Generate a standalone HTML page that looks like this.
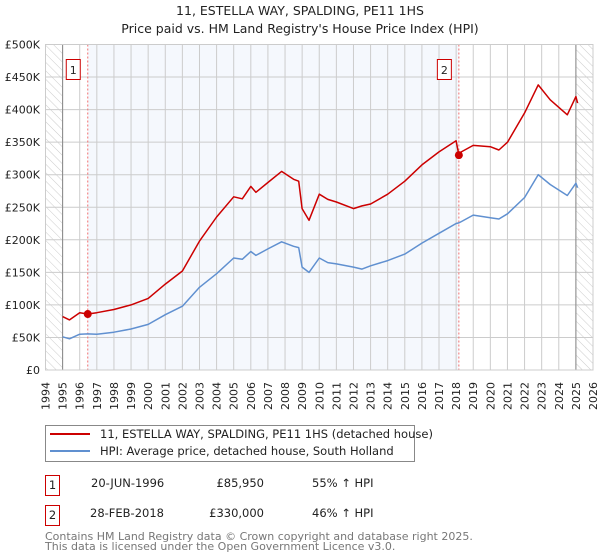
<!DOCTYPE html>
<html><head><meta charset="utf-8"><style>
body{margin:0;background:#fff;font-family:"DejaVu Sans","Liberation Sans",sans-serif;}
svg{display:block}
</style></head><body>
<svg id="chart" width="600" height="560" viewBox="0 0 600 560" xmlns="http://www.w3.org/2000/svg" font-family="DejaVu Sans, Liberation Sans, sans-serif">
<defs>
<pattern id="hatch" width="6" height="6" patternUnits="userSpaceOnUse" patternTransform="rotate(-45)">
<line x1="0" y1="0" x2="0" y2="6" stroke="#ccc" stroke-width="1"/>
</pattern>
</defs>
<text x="300" y="15" text-anchor="middle" font-size="12.5" fill="#222">11, ESTELLA WAY, SPALDING, PE11 1HS</text>
<text x="300" y="33" text-anchor="middle" font-size="12.5" fill="#222">Price paid vs. HM Land Registry's House Price Index (HPI)</text>
<g id="plot"></g>
<g id="legend">
<rect x="45.5" y="425.5" width="369" height="36" fill="#fff" stroke="#888"/>
<line x1="50" y1="434" x2="90" y2="434" stroke="#cc0000" stroke-width="2"/>
<text x="100" y="438" font-size="11.5" fill="#222">11, ESTELLA WAY, SPALDING, PE11 1HS (detached house)</text>
<line x1="50" y1="451" x2="90" y2="451" stroke="#6090d0" stroke-width="2"/>
<text x="100" y="455" font-size="11.5" fill="#222">HPI: Average price, detached house, South Holland</text>
</g>
<g font-size="11.5" fill="#222">
<rect x="45.5" y="475.5" width="14" height="20" fill="#fff" stroke="#cc0000"/>
<text x="52.5" y="489" text-anchor="middle">1</text>
<text x="91" y="487">20-JUN-1996</text>
<text x="264" y="487" text-anchor="end">£85,950</text>
<text x="312" y="487">55% ↑ HPI</text>
</g>
<g font-size="11.5" fill="#222">
<rect x="45.5" y="505.5" width="14" height="20" fill="#fff" stroke="#cc0000"/>
<text x="52.5" y="519" text-anchor="middle">2</text>
<text x="90" y="517">28-FEB-2018</text>
<text x="264" y="517" text-anchor="end">£330,000</text>
<text x="312" y="517">46% ↑ HPI</text>
</g>
<text x="45" y="540" font-size="11" fill="#777">Contains HM Land Registry data © Crown copyright and database right 2025.</text>
<text x="45" y="550" font-size="11" fill="#777">This data is licensed under the Open Government Licence v3.0.</text>
</svg>
<script>
const yearTicks=[1994,1995,1996,1997,1998,1999,2000,2001,2002,2003,2004,2005,2006,2007,2008,2009,2010,2011,2012,2013,2014,2015,2016,2017,2018,2019,2020,2021,2022,2023,2024,2025,2026];
const valueTicks=[0,50000,100000,150000,200000,250000,300000,350000,400000,450000,500000];
const valueTickLabels=["£0","£50K","£100K","£150K","£200K","£250K","£300K","£350K","£400K","£450K","£500K"];
const dates=[1995,1995.4,1996,1996.47,1997,1998,1999,2000,2001,2002,2003,2004,2005,2005.5,2006,2006.3,2007,2007.8,2008.5,2008.8,2009,2009.4,2010,2010.5,2011,2012,2012.5,2013,2014,2015,2016,2017,2018,2018.16,2018.3,2019,2020,2020.5,2021,2022,2022.8,2023.5,2024.5,2025,2025.1];
const hpiValues=[51000,48000,55000,55500,55000,58000,63000,70000,85000,98000,127000,148000,172000,170000,182000,176000,186000,197000,190000,188000,158000,150000,172000,165000,163000,158000,155000,160000,168000,178000,195000,210000,225000,226000,228000,238000,234000,232000,240000,265000,300000,285000,268000,287000,280000];
const propValues=[82000,77000,88000,85950,88000,93000,100000,110000,132000,152000,198000,235000,266000,263000,282000,273000,288000,305000,293000,290000,248000,230000,270000,262000,258000,248000,252000,255000,270000,290000,315000,335000,352000,330000,335000,345000,343000,338000,350000,395000,438000,415000,392000,420000,410000];
const saleDates=[1996.47,2018.16];
const salePrices=[85950,330000];
const saleLabels=["1","2"];

const X0=45.5,X1=593,Y0=370,Y1=44.5;
const xs=y=>X0+(y-1994)/(2026-1994)*(X1-X0);
const ys=v=>Y0-v/500000*(Y0-Y1);
const NS="http://www.w3.org/2000/svg";
const plot=document.getElementById('plot');
function mk(tag,attrs,parent){const e=document.createElementNS(NS,tag);for(const k in attrs)e.setAttribute(k,attrs[k]);(parent||plot).appendChild(e);return e;}

let e;
e=mk('rect',{x:xs(saleDates[0]),y:Y1,width:xs(saleDates[1])-xs(saleDates[0]),height:Y0-Y1,fill:'#eef3fc',opacity:0.6});


e=mk('rect',{x:X0,y:Y1,width:xs(1995)-X0,height:Y0-Y1,fill:'url(#hatch)'});


e=mk('rect',{x:xs(2025),y:Y1,width:X1-xs(2025),height:Y0-Y1,fill:'url(#hatch)'});



yearTicks.forEach(yr=>{
  const x=xs(yr);
  e=mk('line',{x1:x,y1:Y1,x2:x,y2:Y0,stroke:'#ccc','stroke-width':1});
  
  
  e=mk('text',{x:0,y:0,transform:`translate(${x+4},${382}) rotate(-90)`,'text-anchor':'end','font-size':11,fill:'#222'});
  e.textContent=yr;
  
  
});
valueTicks.forEach((v,i)=>{
  const y=ys(v);
  e=mk('line',{x1:X0,y1:y,x2:X1,y2:y,stroke:'#ccc','stroke-width':1});
  
  
  e=mk('text',{x:40,y:y+4,'text-anchor':'end','font-size':11,fill:'#222'});
  e.textContent=valueTickLabels[i];
  
  
});
[1995,2025].forEach(yr=>{
  e=mk('line',{x1:xs(yr),y1:Y1,x2:xs(yr),y2:Y0,stroke:'#888','stroke-width':1});
  
  
});
saleDates.forEach((d,i)=>{
  e=mk('line',{x1:xs(d),y1:Y1,x2:xs(d),y2:Y0,stroke:'#f07070','stroke-width':1,'stroke-dasharray':'2,2'});
  
  
});

const path=(vals)=>dates.map((d,i)=>(i?'L':'M')+xs(d).toFixed(1)+','+ys(vals[i]).toFixed(1)).join(' ');
e=mk('path',{d:path(hpiValues),fill:'none',stroke:'#6090d0','stroke-width':1.5,'stroke-linejoin':'round'});


e=mk('path',{d:path(propValues),fill:'none',stroke:'#cc0000','stroke-width':1.5,'stroke-linejoin':'round'});



saleDates.forEach((d,i)=>{
  e=mk('circle',{cx:xs(d),cy:ys(salePrices[i]),r:4,fill:'#cc0000'});
  
  
  const bx=xs(d)-15;
  e=mk('rect',{x:bx-6.5,y:59.5,width:14,height:20,fill:'#fff',stroke:'#cc0000'});
  
  
  e=mk('text',{x:bx+0.5,y:74,'text-anchor':'middle','font-size':11,fill:'#222'});
  e.textContent=saleLabels[i];
  
  
});
e=mk('rect',{x:X0,y:Y1,width:X1-X0,height:Y0-Y1,fill:'none',stroke:'#ccc'});


</script>
</body></html>
